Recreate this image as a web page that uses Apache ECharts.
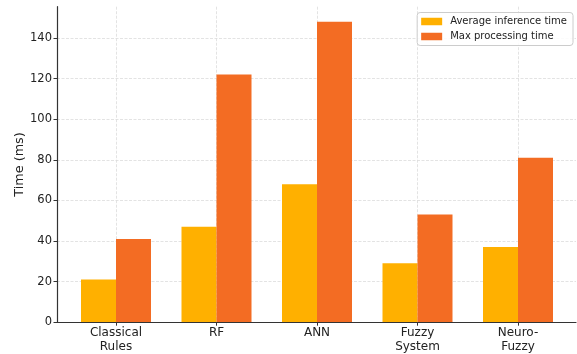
<!DOCTYPE html>
<html>
<head>
<meta charset="utf-8">
<script src="https://cdn.jsdelivr.net/npm/echarts@6/dist/echarts.min.js"></script>
<style>html,body{margin:0;padding:0;background:#fff;}#c{width:577px;height:354px;}</style>
</head>
<body>
<div id="c"></div>
<script>
const categories = ['Classical\nRules', 'RF', 'ANN', 'Fuzzy\nSystem', 'Neuro-\nFuzzy'];
const avgInference = [21, 47, 68, 29, 37];
const maxProcessing = [41, 122, 148, 53, 81];
const yTicks = [0, 20, 40, 60, 80, 100, 120, 140];
const seriesNames = ['Average inference time', 'Max processing time'];
const yMax = 155.4;

const FONT = 'DejaVu Sans';
const TXT = '#222222';
const SPINE = '#333333';
const GRIDC = '#dcdcdc';
const TOP = 6.7, BOTTOM = 31.7;

const chart = echarts.init(document.getElementById('c'), null, {renderer: 'canvas'});
chart.setOption({
  animation: false,
  textStyle: {fontFamily: FONT},
  grid: [
    {left: 57, right: 1, top: TOP, bottom: BOTTOM, containLabel: false},
    {left: 116, right: 59, top: TOP, bottom: BOTTOM, containLabel: false}
  ],
  legend: {
    orient: 'vertical',
    right: 4, top: 12.5,
    data: seriesNames,
    itemWidth: 21, itemHeight: 7.5, itemGap: 3,
    padding: [3, 6, 3, 4],
    borderColor: '#cccccc', borderWidth: 1, borderRadius: 3,
    backgroundColor: 'rgba(255,255,255,0.85)',
    icon: 'rect',
    textStyle: {fontFamily: FONT, fontSize: 10, color: TXT, lineHeight: 12, padding: [0, 0, 0, 3]}
  },
  xAxis: [
    {gridIndex: 0, type: 'value', min: 0, max: 1, position: 'bottom', z: 5,
     axisLine: {show: true, lineStyle: {color: SPINE, width: 1.2}},
     axisTick: {show: false}, axisLabel: {show: false}, splitLine: {show: false}},
    {gridIndex: 1, type: 'category', data: categories, boundaryGap: false, position: 'bottom', z: 0,
     axisLine: {show: false},
     axisTick: {show: true, length: 3.5, lineStyle: {color: SPINE, width: 1}},
     axisLabel: {show: true, fontFamily: FONT, fontSize: 12, lineHeight: 14.4, color: TXT, margin: 3, interval: 0},
     splitLine: {show: true, lineStyle: {color: GRIDC, width: 0.8, type: [3, 1.5]}}}
  ],
  yAxis: [
    {gridIndex: 0, type: 'value', min: 0, max: yMax, interval: 20, position: 'left', z: 0,
     axisLine: {show: false}, axisTick: {show: false}, axisLabel: {show: false},
     splitLine: {show: true, showMaxLine: false, showMinLine: false, lineStyle: {color: GRIDC, width: 0.8, type: [3, 1.5]}}},
    {gridIndex: 1, type: 'value', min: 0, max: yMax, interval: 20, show: false,
     splitLine: {show: false}},
    {gridIndex: 0, type: 'value', min: 0, max: yMax, interval: 20, position: 'left', z: 5,
     name: 'Time (ms)', nameLocation: 'middle', nameGap: 30.5, nameRotate: 90, nameMoveOverlap: false,
     nameTextStyle: {fontFamily: FONT, fontSize: 12.8, color: TXT},
     axisLine: {show: true, lineStyle: {color: SPINE, width: 1.2}},
     axisTick: {show: true, length: 3.5, customValues: yTicks, lineStyle: {color: SPINE, width: 1}},
     axisLabel: {show: true, customValues: yTicks, fontFamily: FONT, fontSize: 11.5, color: TXT, margin: 5},
     splitLine: {show: false}}
  ],
  series: [
    {name: seriesNames[0], type: 'bar', xAxisIndex: 1, yAxisIndex: 1, data: avgInference,
     barWidth: 35, barGap: '0%', clip: false, itemStyle: {color: '#FFB000'}},
    {name: seriesNames[1], type: 'bar', xAxisIndex: 1, yAxisIndex: 1, data: maxProcessing,
     barWidth: 35, barGap: '0%', clip: false, itemStyle: {color: '#F36C23'}}
  ]
});
</script>
</body>
</html>
